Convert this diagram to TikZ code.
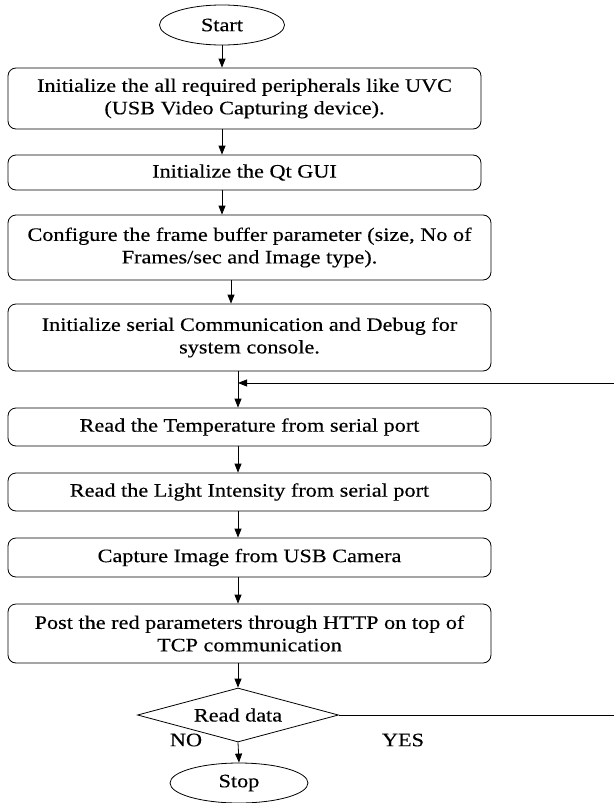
\documentclass[tikz,border=0pt]{standalone}
\usepackage{fontspec}
\setmainfont{Liberation Serif}[FakeStretch=1.17,FakeBold=0.3]
\usetikzlibrary{positioning,shapes.geometric,arrows.meta,calc}

\begin{document}
\begin{tikzpicture}[x=1pt,y=1pt,node distance=75pt,on grid,line width=0.8pt,
    font=\fontsize{19}{22.5}\selectfont,
    proc/.style={draw,rounded corners=8pt,align=center,inner sep=0pt,minimum width=483pt},
    term/.style={draw,ellipse,inner sep=0pt,minimum width=125pt,minimum height=40pt},
    decide/.style={draw,diamond,aspect=3.7,inner sep=0pt,minimum width=201pt,minimum height=54pt},
    >={Triangle[length=9pt,width=7pt]}]
    \useasboundingbox (0,0) rectangle (613,-803);
    \node[term] (start) at (222,-25) {Start};
    \node[proc,minimum width=473pt,minimum height=61pt] (periph) [below=73.5pt of start,xshift=22.5pt]
        {Initialize the all required peripherals like UVC\\(USB Video Capturing device).};
    \node[proc,minimum width=473pt,minimum height=35pt] (gui) [below=74pt of periph] {Initialize the Qt GUI};
    \node[proc,minimum height=65pt] (frame) [below=75pt of gui,xshift=5pt]
        {Configure the frame buffer parameter (size, No of\\Frames/sec and Image type).};
    \node[proc,minimum height=67pt] (serial) [below=90pt of frame]
        {Initialize serial Communication and Debug for\\system console.};
    \node[proc,minimum height=38pt] (temp) [below=89.5pt of serial] {Read the Temperature from serial port};
    \node[proc,minimum height=38pt] (light) [below=65pt of temp] {Read the Light Intensity from serial port};
    \node[proc,minimum height=39pt] (capture) [below=65.5pt of light] {Capture Image from USB Camera};
    \node[proc,minimum height=59pt] (post) [below=76pt of capture]
        {Post the red parameters through HTTP on top of\\TCP communication};
    \node[decide] (dec) [below=81.5pt of post,xshift=-11.5pt] {Read data};
    \node[term,minimum width=138pt] (stop) [below=68pt of dec,xshift=1pt] {Stop};
    \node (no) [below left=25pt and 52pt of dec] {NO};
    \node (yes) [below right=25pt and 165pt of dec] {YES};
    \coordinate (back) at ($(serial.south -| dec)!0.32!(temp.north -| dec)$);
    \draw[->] (start.south) -- (start.south |- periph.north);
    \draw[->] (periph.south -| start) -- (gui.north -| start);
    \draw[->] (gui.south -| start) -- (frame.north -| start);
    \draw[->] ([xshift=9pt]start.south |- frame.south) -- ([xshift=9pt]start.south |- serial.north);
    \draw[->] (serial.south -| dec) -- (temp.north -| dec);
    \draw[->] (temp.south -| dec) -- (light.north -| dec);
    \draw[->] (light.south -| dec) -- (capture.north -| dec);
    \draw[->] (capture.south -| dec) -- (post.north -| dec);
    \draw[->] (post.south -| dec) -- (dec.north);
    \draw[->] (dec.south) -- (stop.north);
    \draw[->] (dec.east) -- ++(277pt,0) |- (back);
\end{tikzpicture}
\end{document}
